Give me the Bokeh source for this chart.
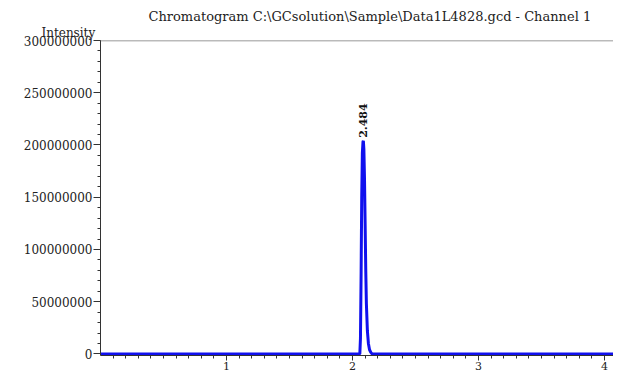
import numpy as np
from bokeh.plotting import figure
from bokeh.models import ColumnDataSource, Range1d, FixedTicker, Span, NumeralTickFormatter, Title
from bokeh.core.properties import value
from bokeh.embed import file_html
from bokeh.resources import INLINE

# ---- data (retention time in min, intensity) ----
time_min = [0.0, 2.058, 2.063, 2.068, 2.073, 2.078, 2.083, 2.086, 2.090, 2.095, 2.100,
            2.105, 2.110, 2.118, 2.126, 2.135, 2.145, 2.155, 4.071]
intensity = [0, 0, 15e6, 75e6, 150e6, 192e6, 203e6, 204e6, 196e6, 168e6, 125e6,
             80e6, 48e6, 22e6, 10e6, 4e6, 1.5e6, 0, 0]
peak_rt = [2.086]
peak_height = [204e6]
peak_label = ["2.484"]

title_text = "Chromatogram C:\\GCsolution\\Sample\\Data1L4828.gcd - Channel 1"
y_label = "Intensity"
y_ticks = [0, 50000000, 100000000, 150000000, 200000000, 250000000, 300000000]
x_ticks = [1, 2, 3, 4]
X_MAX = 4.071
Y_MAX = 300000000

SERIF = "DejaVu Serif"

p = figure(width=613, height=372, output_backend="svg", toolbar_location=None,
           x_range=Range1d(0, X_MAX), y_range=Range1d(-1.5e6, Y_MAX))
p.min_border_left = 100
p.min_border_top = 40
p.min_border_right = 0
p.min_border_bottom = 17
p.outline_line_color = None
p.grid.grid_line_color = None
p.background_fill_color = "white"

# main title
p.title.text = title_text
p.title.align = "left"
p.title.offset = 48
p.title.standoff = 0
p.title.text_font = SERIF
p.title.text_font_size = "13px"
p.title.text_font_style = "normal"
p.title.text_color = "#222222"

# y axis name above the axis (as a second title, left of the frame)
p.add_layout(Title(text=y_label, align="left", offset=-59, standoff=1,
                   text_font=SERIF, text_font_size="12px", text_font_style="normal",
                   text_color="#222222"), "above")

# axes
p.xaxis.ticker = FixedTicker(ticks=x_ticks, minor_ticks=[round(0.1 * i, 2) for i in range(1, 41)])
p.yaxis.ticker = FixedTicker(ticks=y_ticks, minor_ticks=list(range(0, 300000001, 10000000)))
p.yaxis.formatter = NumeralTickFormatter(format="0")
for ax in (p.xaxis, p.yaxis):
    ax.axis_line_color = "#333333"
    ax.major_tick_line_color = "#333333"
    ax.minor_tick_line_color = "#333333"
    ax.major_tick_out = 7
    ax.major_tick_in = 0
    ax.minor_tick_out = 3
    ax.minor_tick_in = 0
    ax.major_label_text_font = SERIF
    ax.major_label_text_font_size = "12px"
    ax.major_label_text_color = "#222222"
p.xaxis.major_tick_out = 5
p.xaxis.major_label_standoff = 1
p.xaxis.major_label_text_font_size = "11px"
p.yaxis.major_label_standoff = 1

# top border line
p.add_layout(Span(location=Y_MAX, dimension="width", line_color="#777777", line_width=1.5))

# chromatogram trace
src = ColumnDataSource(dict(t=time_min, y=intensity))
p.line("t", "y", source=src, line_color="#1010ee", line_width=3)

# peak label
lsrc = ColumnDataSource(dict(x=peak_rt, y=peak_height, txt=peak_label))
p.text("x", "y", text="txt", source=lsrc, angle=np.pi / 2, text_align="left",
       text_baseline="middle", y_offset=-3, text_font=value(SERIF),
       text_font_size="11px", text_color="#111111", text_font_style="bold")

open("out.html", "w").write(file_html(p, INLINE))
